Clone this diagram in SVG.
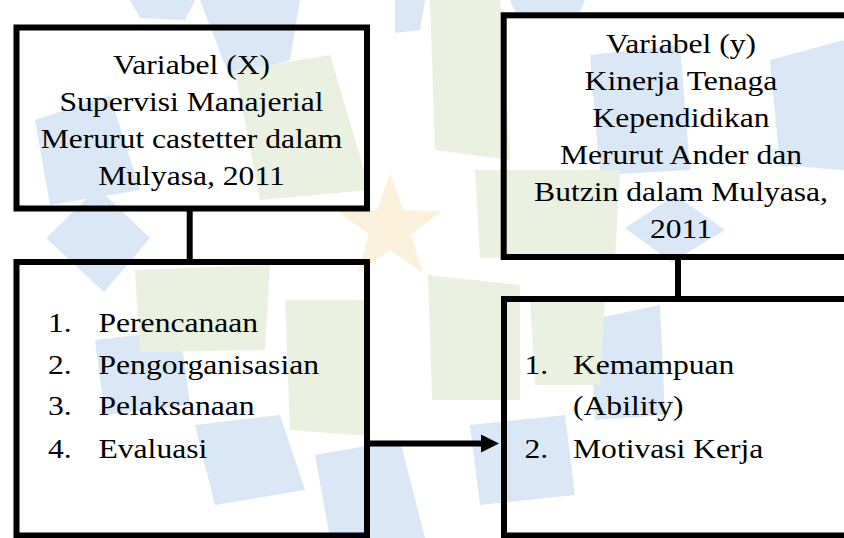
<svg xmlns="http://www.w3.org/2000/svg" width="844" height="538" viewBox="0 0 844 538">
<defs>
<style>
.bg{fill:#ffffff}
.wb{fill:#d9e7f6}
.wg{fill:#eaf1e0}
.ws{fill:#fcf1da}
.box{fill:none;stroke:#000;stroke-width:6}
.link{fill:none;stroke:#000;stroke-width:6}
.head{fill:#000}
.t{font-family:"Liberation Serif","Times New Roman",Times,serif;font-size:27.6px;fill:#000}
.c{text-anchor:middle}
</style>
</defs>
<rect class="bg" x="0" y="0" width="844" height="538"/>
<g id="watermark">
<polygon class="wb" points="200,0 300,0 290,60 230,78"/>
<polygon class="wb" points="130,0 195,0 185,20 140,18"/>
<polygon class="wb" points="395,0 425,0 420,30 395,33"/>
<polygon class="wb" points="510,0 585,0 580,12 515,12"/>
<polygon class="wb" points="35,120 110,95 140,190 50,205"/>
<polygon class="wb" points="46,238 98,188 150,238 104,292"/>
<polygon class="wb" points="95,340 180,330 190,405 105,415"/>
<polygon class="wb" points="195,425 280,415 305,490 215,505"/>
<polygon class="wb" points="315,455 400,440 425,538 330,538"/>
<polygon class="wb" points="470,425 565,415 575,495 480,505"/>
<polygon class="wb" points="590,320 660,305 665,415 595,420"/>
<polygon class="wb" points="590,55 680,45 690,170 600,175"/>
<polygon class="wb" points="625,228 675,195 725,230 672,262"/>
<polygon class="wb" points="770,60 844,40 844,170 780,165"/>
<polygon class="wg" points="235,70 330,55 370,190 260,200"/>
<polygon class="wg" points="430,0 500,0 510,160 435,150"/>
<polygon class="wg" points="475,170 620,170 615,258 480,258"/>
<polygon class="wg" points="135,270 270,265 265,350 140,352"/>
<polygon class="wg" points="285,300 365,300 370,436 290,430"/>
<polygon class="wg" points="428,275 520,285 520,400 432,400"/>
<polygon class="wg" points="530,300 605,300 600,385 535,385"/>
<polygon class="ws" points="390,173 402.9,210.2 442.3,211 410.9,234.8 422.3,272.5 390,250 357.7,272.5 369.1,234.8 337.7,211 377.1,210.2"/>
</g>
<g id="connectors">
<line class="link" x1="189.7" y1="208" x2="189.7" y2="263"/>
<line class="link" x1="678" y1="256" x2="678" y2="300"/>
<line class="link" x1="367" y1="443.5" x2="484" y2="443.5"/>
<polygon class="head" points="481,434.5 499,443.5 481,452.5"/>
</g>
<g id="nodeX">
<rect class="box" x="16.5" y="27.5" width="350.5" height="181"/>
<text class="t c" transform="translate(191.5,74) scale(1.145,1)">Variabel (X)</text>
<text class="t c" transform="translate(191.5,111) scale(1.145,1)">Supervisi Manajerial</text>
<text class="t c" transform="translate(191.5,148) scale(1.145,1)">Merurut castetter dalam</text>
<text class="t c" transform="translate(191.5,185) scale(1.145,1)">Mulyasa, 2011</text>
</g>
<g id="nodeXList">
<rect class="box" x="16.5" y="262" width="350.5" height="273.5"/>
<text class="t" transform="translate(48,332) scale(1.145,1)">1.</text>
<text class="t" transform="translate(98.5,332) scale(1.145,1)">Perencanaan</text>
<text class="t" transform="translate(48,373.5) scale(1.145,1)">2.</text>
<text class="t" transform="translate(98.5,373.5) scale(1.145,1)">Pengorganisasian</text>
<text class="t" transform="translate(48,415) scale(1.145,1)">3.</text>
<text class="t" transform="translate(98.5,415) scale(1.145,1)">Pelaksanaan</text>
<text class="t" transform="translate(48,457.5) scale(1.145,1)">4.</text>
<text class="t" transform="translate(98.5,457.5) scale(1.145,1)">Evaluasi</text>
</g>
<g id="nodeY">
<rect class="box" x="503.7" y="15.3" width="354.6" height="241.7"/>
<text class="t c" transform="translate(681,53) scale(1.145,1)">Variabel (y)</text>
<text class="t c" transform="translate(681,90) scale(1.145,1)">Kinerja Tenaga</text>
<text class="t c" transform="translate(681,127) scale(1.145,1)">Kependidikan</text>
<text class="t c" transform="translate(681,164) scale(1.145,1)">Merurut Ander dan</text>
<text class="t c" transform="translate(681,201) scale(1.145,1)">Butzin dalam Mulyasa,</text>
<text class="t c" transform="translate(681,238) scale(1.145,1)">2011</text>
</g>
<g id="nodeYList">
<rect class="box" x="504" y="299" width="354" height="236.5"/>
<text class="t" transform="translate(524.5,373.5) scale(1.145,1)">1.</text>
<text class="t" transform="translate(573,373.5) scale(1.145,1)">Kemampuan</text>
<text class="t" transform="translate(573,415) scale(1.145,1)">(Ability)</text>
<text class="t" transform="translate(524.5,457.5) scale(1.145,1)">2.</text>
<text class="t" transform="translate(573,457.5) scale(1.145,1)">Motivasi Kerja</text>
</g>
</svg>
